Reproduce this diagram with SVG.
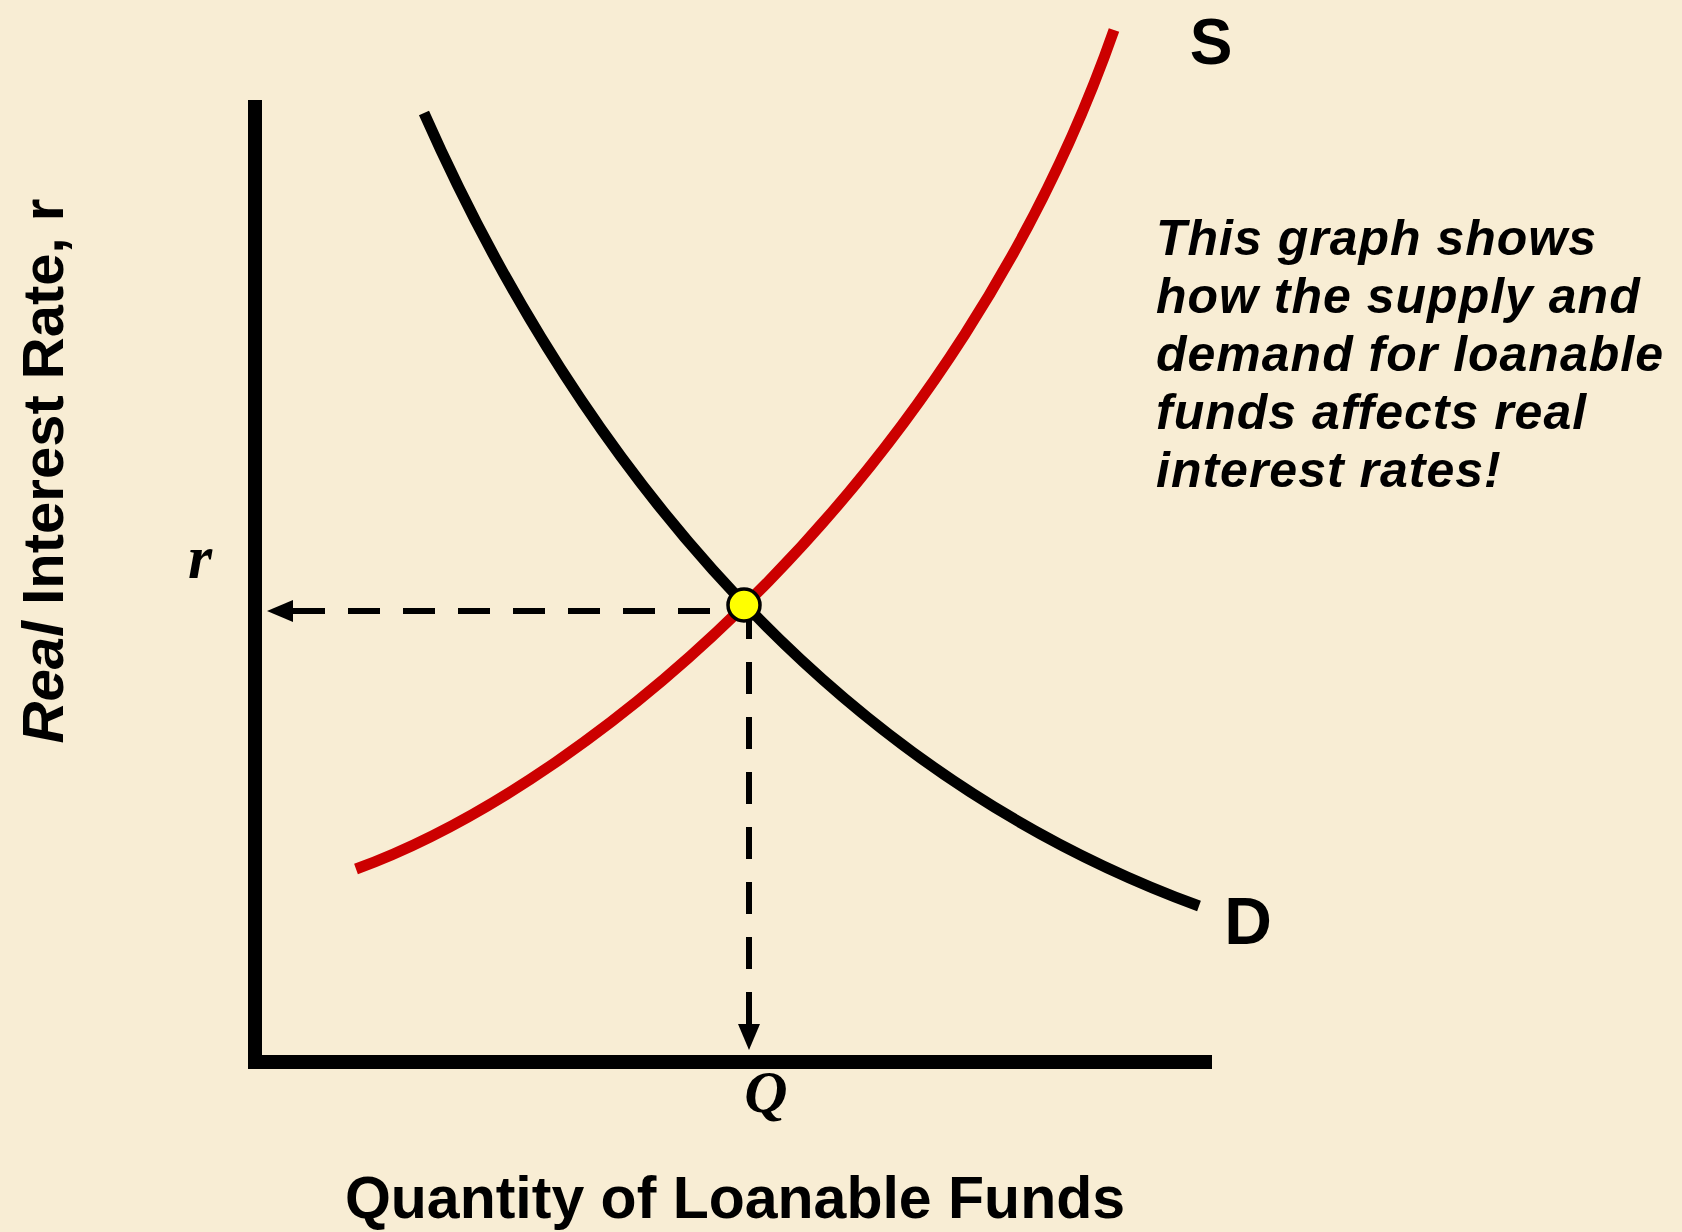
<svg xmlns="http://www.w3.org/2000/svg" width="1682" height="1232" viewBox="0 0 1682 1232">
  <style>
    .bg { fill: #F8EDD4; }
    .axis { stroke: #000; stroke-width: 14; fill: none; }
    .curve { fill: none; stroke-width: 11; stroke-linecap: butt; }
    .dash { stroke: #000; stroke-width: 6; stroke-dasharray: 32 23; fill: none; }
    .lbl { font-family: "Liberation Sans", Arial, sans-serif; font-weight: bold; fill: #000; }
    .note { font-family: "Liberation Sans", Arial, sans-serif; font-weight: bold; font-style: italic; font-size: 50px; letter-spacing: 1px; fill: #000; }
    .var { font-family: "Liberation Serif", "Times New Roman", serif; font-weight: bold; font-style: italic; fill: #000; }
  </style>
  <defs>
    <marker id="arrow" markerUnits="userSpaceOnUse" markerWidth="26" markerHeight="22" refX="0" refY="11" orient="auto-start-reverse">
      <path d="M0,0 L26,11 L0,22 z" fill="#000"/>
    </marker>
  </defs>
  <rect class="bg" x="0" y="0" width="1682" height="1232"/>

  <g id="axes">
    <path class="axis" d="M255,100 V1062 H1212"/>
  </g>

  <g id="connectors">
    <path class="dash" d="M293,611 H730" marker-start="url(#arrow)"/>
    <path class="dash" d="M749,1024 V620" marker-start="url(#arrow)"/>
  </g>

  <g id="demand">
    <path class="curve" stroke="#000" d="M424,113 C560,420 800,760 1199,906"/>
  </g>
  <g id="supply">
    <path class="curve" stroke="#CC0000" d="M356,869 C600,780 960,470 1114,30"/>
  </g>

  <g id="equilibrium">
    <circle cx="744" cy="605" r="16" fill="#FFFF00" stroke="#000" stroke-width="3.5"/>
  </g>

  <g id="labels">
    <text class="lbl" x="1211" y="64" font-size="64" text-anchor="middle">S</text>
    <text class="lbl" x="1248" y="944" font-size="66" text-anchor="middle">D</text>
    <text class="var" x="200" y="578" font-size="62" text-anchor="middle">r</text>
    <text class="var" x="766" y="1112" font-size="60" text-anchor="middle">Q</text>
    <text class="lbl" x="735" y="1218" font-size="59" text-anchor="middle">Quantity of Loanable Funds</text>
    <text class="lbl" font-size="58" text-anchor="middle" transform="translate(63,471) rotate(-90)"><tspan font-style="italic">Real</tspan> Interest Rate, r</text>
  </g>

  <g id="note">
    <text class="note" x="1156" y="255">This graph shows</text>
    <text class="note" x="1156" y="313">how the supply and</text>
    <text class="note" x="1156" y="371">demand for loanable</text>
    <text class="note" x="1156" y="429">funds affects real</text>
    <text class="note" x="1156" y="487">interest rates!</text>
  </g>
</svg>
